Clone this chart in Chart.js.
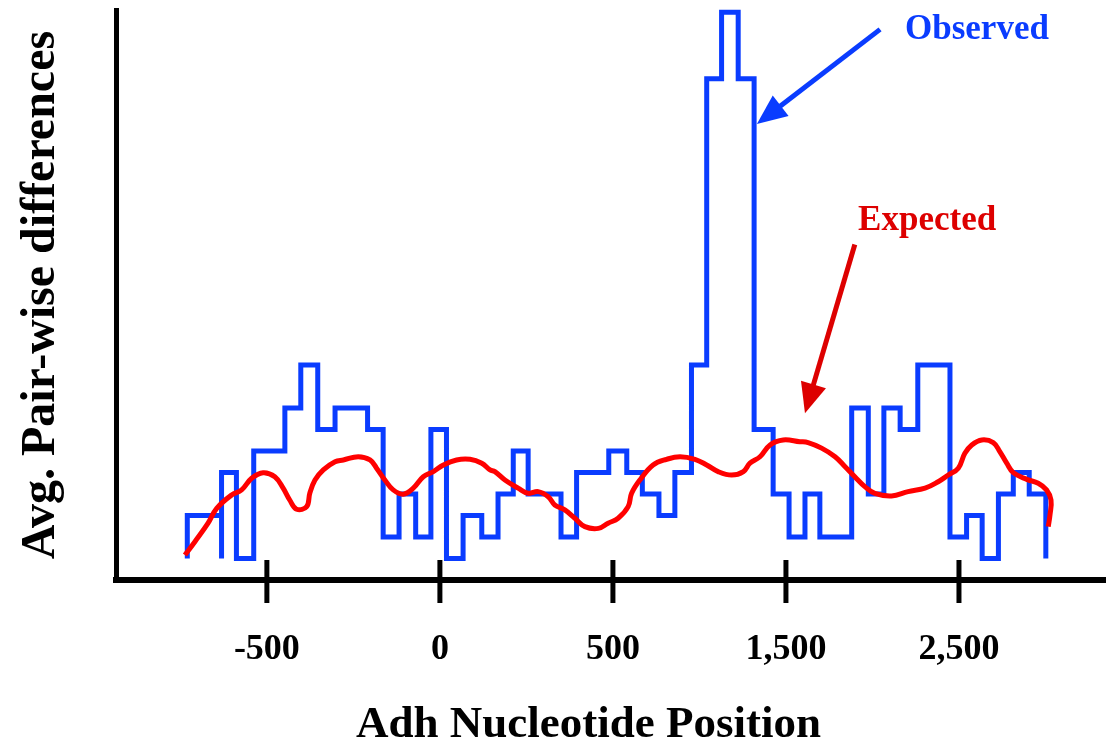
<!DOCTYPE html>
<html>
<head>
<meta charset="utf-8">
<title>Adh pair-wise differences</title>
<script src="https://cdn.jsdelivr.net/npm/chart.js@4.4.1/dist/chart.umd.min.js"></script>
<style>
  html, body { margin: 0; padding: 0; background: #fff; }
</style>
</head>
<body>
<canvas id="chart" width="1107" height="744"></canvas>
<script>
/* ===============================
   Data
================================ */
const tickValues = [-500, 0, 500, 1000, 1500];
const tickLabels = ["-500", "0", "500", "1,500", "2,500"];

// observed: left edge of each window, value held until the next edge
const observedX = [-730, -730, -631, -631, -588, -538, -448, -402, -353, -303,
  -209, -164, -118, -70, -26, 19, 67, 121, 168, 212,
  255, 350, 395, 488, 540, 585, 633, 679, 727, 771,
  814, 862, 908, 963, 1009, 1055, 1098, 1190, 1238, 1283,
  1330, 1381, 1474, 1522, 1567, 1614, 1657, 1703, 1751];
const observedY = [1, 3, 1, 5, 1, 6, 8, 10, 7, 8,
  7, 2, 4, 2, 7, 1, 3, 2, 4, 6,
  4, 2, 5, 6, 5, 4, 3, 5, 10, 23.3,
  26.4, 23.3, 7, 4, 2, 4, 2, 8, 4, 8,
  7, 10, 2, 3, 1, 4, 5, 4, 1];

// expected curve
const expectedX = [-737, -708, -670, -645, -602, -573, -544, -511, -477, -453,
  -434, -414, -385, -376, -361, -337, -303, -279, -236, -202,
  -183, -159, -135, -106, -77, -48, -19, 10, 48, 87,
  121, 145, 159, 188, 226, 255, 284, 313, 332, 361,
  390, 419, 458, 486, 515, 544, 554, 578, 616, 655,
  694, 737, 771, 804, 843, 877, 896, 925, 954, 992,
  1040, 1064, 1103, 1142, 1171, 1199, 1228, 1257, 1305, 1353,
  1402, 1440, 1469, 1498, 1517, 1537, 1566, 1599, 1618, 1638,
  1657, 1696, 1729, 1753, 1766, 1763, 1758];
const expectedY = [1.16, 1.78, 2.64, 3.33, 3.95, 4.19, 4.73, 4.99, 4.8, 4.27,
  3.72, 3.29, 3.41, 4.03, 4.65, 5.12, 5.5, 5.58, 5.73, 5.58,
  5.2, 4.65, 4.19, 3.99, 4.27, 4.8, 5.04, 5.35, 5.58, 5.61,
  5.43, 5.12, 5.04, 4.65, 4.27, 4.03, 4.11, 3.87, 3.49, 3.26,
  2.87, 2.48, 2.4, 2.64, 2.87, 3.41, 4.03, 4.65, 5.35, 5.61,
  5.73, 5.61, 5.35, 5.04, 4.88, 5.04, 5.43, 5.73, 6.28, 6.51,
  6.43, 6.39, 6.13, 5.73, 5.27, 4.8, 4.34, 4.03, 3.91, 4.11,
  4.27, 4.57, 4.88, 5.2, 5.89, 6.28, 6.51, 6.39, 5.97, 5.43,
  4.99, 4.68, 4.5, 4.19, 3.72, 3.02, 2.48];

// call-outs: label position, arrow start and arrow tip (data units)
const notes = [
  { text: "Observed", color: "#0a3cff", at: [1552, 25.55], from: [1272, 25.6], to: [916, 21.2] },
  { text: "Expected", color: "#dd0000", at: [1408, 16.7], from: [1199, 15.6], to: [1055, 7.75] }
];

const SERIF = "'Liberation Serif', 'Times New Roman', serif";

/* ===============================
   Decorations plugin
================================ */
const decor = {
  id: "decor",
  afterDatasetsDraw(chart) {
    const { ctx, scales: { x, y } } = chart;
    ctx.save();

    // tick marks crossing the x axis
    ctx.strokeStyle = "#000";
    ctx.lineWidth = 5;
    tickValues.forEach(v => {
      const px = x.getPixelForValue(v);
      ctx.beginPath();
      ctx.moveTo(px, y.bottom - 20);
      ctx.lineTo(px, y.bottom + 23);
      ctx.stroke();
    });

    // arrows and their labels
    notes.forEach(n => {
      const x1 = x.getPixelForValue(n.from[0]), y1 = y.getPixelForValue(n.from[1]);
      const x2 = x.getPixelForValue(n.to[0]), y2 = y.getPixelForValue(n.to[1]);
      const a = Math.atan2(y2 - y1, x2 - x1);
      const head = 30, half = 13;
      const bx = x2 - head * Math.cos(a), by = y2 - head * Math.sin(a);

      ctx.strokeStyle = n.color;
      ctx.fillStyle = n.color;
      ctx.lineWidth = 5;
      ctx.beginPath();
      ctx.moveTo(x1, y1);
      ctx.lineTo(bx + 4 * Math.cos(a), by + 4 * Math.sin(a));
      ctx.stroke();

      ctx.beginPath();
      ctx.moveTo(x2, y2);
      ctx.lineTo(bx - half * Math.sin(a), by + half * Math.cos(a));
      ctx.lineTo(bx + half * Math.sin(a), by - half * Math.cos(a));
      ctx.closePath();
      ctx.fill();

      ctx.font = "bold 35px " + SERIF;
      ctx.textAlign = "center";
      ctx.textBaseline = "middle";
      ctx.fillText(n.text, x.getPixelForValue(n.at[0]), y.getPixelForValue(n.at[1]));
    });

    // x axis title, set a little left of the plot centre as in the source
    ctx.fillStyle = "#000";
    ctx.font = "bold 45px " + SERIF;
    ctx.textAlign = "center";
    ctx.textBaseline = "alphabetic";
    ctx.fillText("Adh Nucleotide Position", (x.left + x.right) / 2 - 22, chart.height - 7);

    ctx.restore();
  }
};

/* ===============================
   Chart
================================ */
new Chart(document.getElementById("chart"), {
  type: "line",
  data: {
    datasets: [
      {
        label: "Expected",
        data: expectedX.map((v, i) => ({ x: v, y: expectedY[i] })),
        borderColor: "#ff0000",
        borderWidth: 5,
        pointRadius: 0,
        tension: 0.4,
        fill: false
      },
      {
        label: "Observed",
        data: observedX.map((v, i) => ({ x: v, y: observedY[i] })),
        borderColor: "#0a3cff",
        borderWidth: 5,
        pointRadius: 0,
        stepped: "before",
        fill: false,
        clip: 8
      }
    ]
  },
  options: {
    responsive: false,
    animation: false,
    layout: { padding: { top: 10, right: 2, left: 0, bottom: 0 } },
    plugins: {
      legend: { display: false },
      tooltip: { enabled: false }
    },
    scales: {
      x: {
        type: "linear",
        min: -936,
        max: 1922,
        afterBuildTicks: s => { s.ticks = tickValues.map(v => ({ value: v })); },
        afterFit: s => { s.height = 164; },
        ticks: {
          callback: v => tickLabels[tickValues.indexOf(v)],
          color: "#000",
          font: { family: SERIF, size: 36, weight: "bold" },
          padding: 48,
          maxRotation: 0,
          autoSkip: false
        },
        grid: { display: false, drawTicks: false },
        border: { display: true, color: "#000", width: 6 }
      },
      y: {
        min: 0,
        max: 26.5,
        afterFit: s => { s.width = 116; },
        ticks: { display: false },
        grid: { display: false, drawTicks: false },
        border: { display: true, color: "#000", width: 5 },
        title: {
          display: true,
          text: "Avg. Pair-wise differences",
          color: "#000",
          font: { family: SERIF, size: 48, weight: "bold", lineHeight: 1 },
          padding: { top: 18, bottom: 0 }
        }
      }
    }
  },
  plugins: [decor]
});
</script>
</body>
</html>
